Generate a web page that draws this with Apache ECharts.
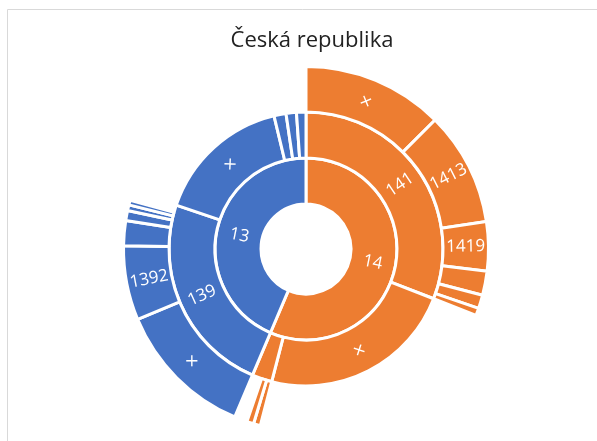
<!DOCTYPE html>
<html>
<head>
<meta charset="utf-8">
<title>Česká republika</title>
<script src="https://cdn.jsdelivr.net/npm/echarts@6/dist/echarts.min.js"></script>
<style>
  html, body { margin: 0; padding: 0; background: #fff; }
  #chart { width: 597px; height: 441px; }
</style>
</head>
<body>
<div id="chart"></div>
<script>
// source table, one row per leaf (empty level3 = the level2 node has no child there)
const level1 = ['14', '14', '14', '14', '14', '14', '14', '14', '14', '14',
                '13', '13', '13', '13', '13', '13', '13', '13', '13', '13', '13'];
const level2 = ['141', '141', '141', '141', '141', '141', '×', '142', '142', '142',
                '139', '139', '139', '139', '139', '139', '139', '×', '131', '132', '134'];
const level3 = ['×', '1413', '1419', '1411', '1412', '1414', '', '1421', '1422', '',
                '×', '1392', '1391', '1393', '1394', '1399', '', '', '', '', ''];
const values = [450, 363, 157, 77, 43, 23, 832, 22, 22, 41,
                443, 237, 80, 32, 18, 15, 32, 578, 51, 44, 40];

const groupColors = { '14': '#ED7D31', '13': '#4472C4' };
const shownLabels = ['14', '13', '141', '139', '1413', '1419', '1392', '×'];

function makeNode(name, color) {
  const node = {
    name: name,
    value: 0,
    children: [],
    itemStyle: { color: color },
    label: { show: shownLabels.includes(name) }
  };
  if (name === '×') node.label.fontSize = 20;
  return node;
}

function buildTree() {
  const roots = [];
  const find = (list, name) => list.find((n) => n.name === name);
  for (let i = 0; i < values.length; i++) {
    const color = groupColors[level1[i]];
    let top = find(roots, level1[i]);
    if (!top) {
      top = makeNode(level1[i], color);
      roots.push(top);
    }
    top.value += values[i];
    let mid = find(top.children, level2[i]);
    if (!mid) {
      mid = makeNode(level2[i], color);
      top.children.push(mid);
    }
    mid.value += values[i];
    if (level3[i]) {
      const leaf = makeNode(level3[i], color);
      leaf.value = values[i];
      mid.children.push(leaf);
    }
  }
  // drop empty child lists
  const clean = (n) => {
    if (!n.children.length) delete n.children;
    else n.children.forEach(clean);
  };
  roots.forEach(clean);
  return roots;
}

var myChart = echarts.init(document.getElementById('chart'));
var option = {
  animation: false,
  title: {
    text: 'Česká republika',
    left: 307,
    textAlign: 'center',
    top: 25,
    textStyle: {
      fontFamily: 'Open Sans',
      fontSize: 22,
      fontWeight: 'normal',
      color: '#222'
    }
  },
  graphic: [
    {
      type: 'rect',
      silent: true,
      shape: { x: 7.5, y: 9.5, width: 640, height: 480 },
      style: { fill: null, stroke: '#d9d9d9', lineWidth: 1 }
    }
  ],
  series: [
    {
      type: 'sunburst',
      center: [306, 249],
      sort: null,
      nodeClick: false,
      data: buildTree(),
      itemStyle: { borderColor: '#fff', borderWidth: 3 },
      label: {
        color: '#fff',
        fontFamily: 'Open Sans',
        fontSize: 17,
        rotate: 'radial'
      },
      emphasis: { focus: 'none' },
      levels: [
        {},
        { r0: 45, r: 91 },
        { r0: 91, r: 137 },
        { r0: 137, r: 182.5 }
      ]
    }
  ]
};

myChart.setOption(option);
window.addEventListener('resize', function () {
  myChart.resize();
});
</script>
</body>
</html>
